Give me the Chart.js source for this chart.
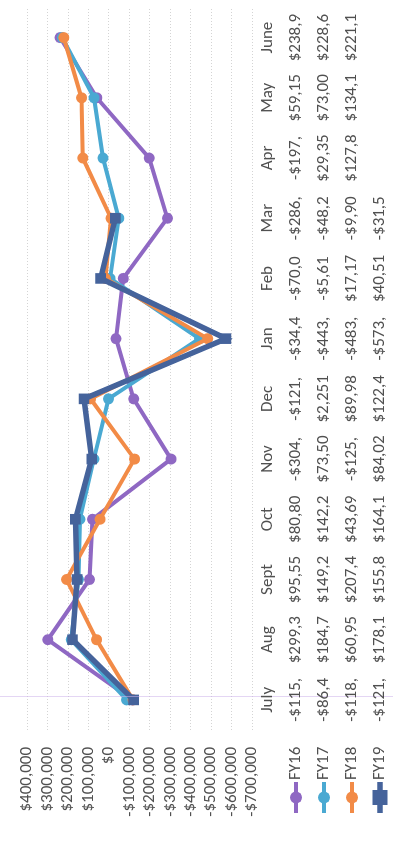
<!DOCTYPE html>
<html>
<head>
<meta charset="utf-8">
<script src="https://cdn.jsdelivr.net/npm/chart.js@4/dist/chart.umd.min.js"></script>
<style>
  html, body { margin: 0; padding: 0; background: #fff; }
  body { width: 393px; height: 844px; overflow: hidden; position: relative; }
  /* the chart is laid out landscape and turned a quarter-turn to stand upright */
  #wrap {
    position: absolute; left: 0; top: 0;
    width: 844px; height: 393px;
    transform-origin: 0 0;
    transform: translate(0, 844px) rotate(-90deg);
  }
</style>
</head>
<body>
<div id="wrap"><canvas id="c" width="844" height="393"></canvas></div>
<script>
const months = ['July', 'Aug', 'Sept', 'Oct', 'Nov', 'Dec', 'Jan', 'Feb', 'Mar', 'Apr', 'May', 'June'];
const seriesNames = ['FY16', 'FY17', 'FY18', 'FY19'];
const fy16 = [-115000, 299300, 95550, 80800, -304000, -121000, -34400, -70000, -286000, -197000, 59150, 238900];
const fy17 = [-86400, 184700, 149200, 142200, 73500, 2251, -443000, -5610, -48200, 29350, 73000, 228600];
const fy18 = [-118000, 60950, 207400, 43690, -125000, 89980, -483000, 17170, -9900, 127800, 134100, 221100];
const fy19 = [-121000, 178100, 155800, 164100, 84020, 122400, -573000, 40510, -31500, null, null, null];
const yTicks = [400000, 300000, 200000, 100000, 0, -100000, -200000, -300000, -400000, -500000, -600000, -700000];

const colors = ['#8f68c3', '#4aa9d2', '#f28b47', '#45639b'];
const FONT = "Carlito, Calibri, Lato, 'Open Sans', sans-serif";
const TEXT = '#505050';
const FONT_SIZE = 17;

function money(v) {
  return (v < 0 ? '-' : '') + '$' + Math.abs(v).toLocaleString('en-US');
}

const seriesData = [fy16, fy17, fy18, fy19];

const datasets = seriesData.map((d, i) => ({
  label: seriesNames[i],
  data: d,
  borderColor: colors[i],
  backgroundColor: colors[i],
  borderWidth: i === 3 ? 5.5 : 4,
  pointStyle: i === 3 ? 'rect' : 'circle',
  pointRadius: i === 3 ? 7.5 : 5.5,
  pointBorderWidth: 0,
  pointHoverRadius: i === 3 ? 7.5 : 5.5,
  tension: 0,
  spanGaps: false,
  order: 3 - i
}));

// data table under the plot: month row, then one row per fiscal year with its key
const dataTable = {
  id: 'dataTable',
  afterDraw(chart) {
    const ctx = chart.ctx;
    const x = chart.scales.x;
    const area = chart.chartArea;
    ctx.save();

    // faint guide through the first month
    ctx.strokeStyle = 'rgba(205,180,235,0.55)';
    ctx.lineWidth = 1;
    ctx.beginPath();
    ctx.moveTo(area.left + 33.5, 0);
    ctx.lineTo(area.left + 33.5, chart.height);
    ctx.stroke();

    ctx.font = FONT_SIZE + 'px ' + FONT;
    ctx.fillStyle = TEXT;
    ctx.textBaseline = 'middle';
    ctx.textAlign = 'center';
    const monthRow = 268;
    const rows = [296, 324, 352, 380];
    months.forEach((m, i) => ctx.fillText(m, x.getPixelForValue(i), monthRow));

    seriesData.forEach((d, s) => {
      const y = rows[s];
      // legend key
      ctx.strokeStyle = colors[s];
      ctx.lineWidth = s === 3 ? 5.5 : 4;
      ctx.beginPath();
      ctx.moveTo(31, y);
      ctx.lineTo(62, y);
      ctx.stroke();
      ctx.fillStyle = colors[s];
      if (s === 3) {
        ctx.fillRect(46.5 - 7.5, y - 7.5, 15, 15);
      } else {
        ctx.beginPath();
        ctx.arc(46.5, y, 6, 0, Math.PI * 2);
        ctx.fill();
      }
      ctx.fillStyle = TEXT;
      ctx.textAlign = 'left';
      ctx.fillText(seriesNames[s], 64, y);
      // cells show only the first six characters of each amount
      ctx.textAlign = 'center';
      d.forEach((v, i) => {
        if (v === null) return;
        ctx.fillText(money(v).slice(0, 6), x.getPixelForValue(i), y);
      });
    });
    ctx.restore();
  }
};

new Chart(document.getElementById('c'), {
  type: 'line',
  data: { labels: months, datasets },
  options: {
    responsive: false,
    devicePixelRatio: 1,
    animation: false,
    layout: { padding: { left: 0, right: 1, top: 24, bottom: 141 } },
    plugins: { legend: { display: false }, tooltip: { enabled: false } },
    scales: {
      x: {
        type: 'category',
        offset: true,
        display: false
      },
      y: {
        min: -700000,
        max: 400000,
        afterFit(scale) { scale.width = 114; },
        afterBuildTicks(scale) { scale.ticks = yTicks.map(v => ({ value: v })); },
        grid: { color: '#d4d4d4', lineWidth: 1, drawTicks: false },
        border: { display: false, dash: [1, 2] },
        ticks: {
          autoSkip: false,
          padding: 17,
          color: TEXT,
          font: { family: FONT, size: FONT_SIZE },
          callback: v => money(v)
        }
      }
    }
  },
  plugins: [dataTable]
});
</script>
</body>
</html>
